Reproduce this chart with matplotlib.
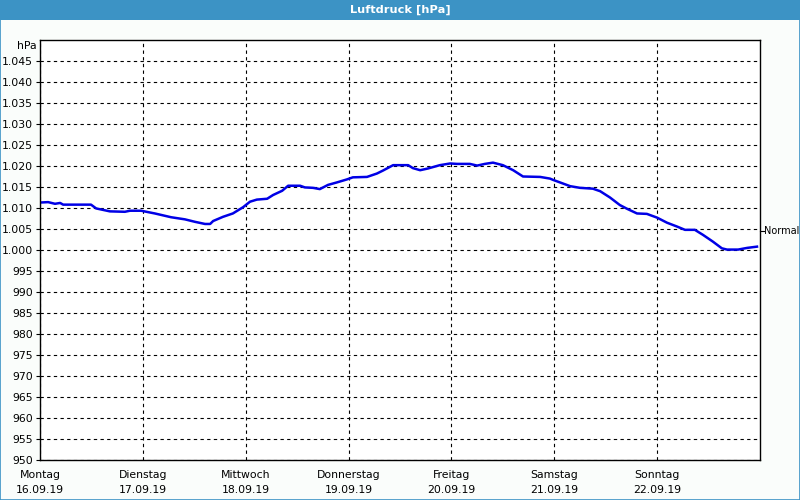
import matplotlib
matplotlib.use("Agg")
import matplotlib.pyplot as plt
from matplotlib.patches import Rectangle

# hours since Montag 16.09.19 00:00 and pressure in hPa
hours = [0, 1.9, 3.5, 4.7, 5.4, 11.9, 13.1, 16.3, 19.8, 21, 23.6, 26.8, 30.6,
         33.8, 36.2, 38.5, 39.7, 40.4, 42.7, 45.0, 47.4, 49, 50.6, 53, 54.4,
         56.5, 57.9, 60.7, 61.8, 63.7, 65.3, 67.2, 69.3, 71.6, 73, 76.3, 78.6,
         80, 82.4, 85.9, 87, 88.7, 90.5, 93.3, 95.7, 97.3, 100.3, 102, 103.8,
         105.7, 108, 110.4, 112.7, 116.7, 119, 119.7, 121.3, 123.7, 126, 129,
         130.7, 133, 135.3, 137, 139.3, 141.6, 144, 146.3, 148.6, 150.5, 152.8,
         154.7, 157, 159.1, 160.3, 162.9, 165, 167.3]
pressure = [1011.3, 1011.4, 1011.0, 1011.2, 1010.8, 1010.8, 1009.9, 1009.2,
            1009.1, 1009.35, 1009.35, 1008.7, 1007.8, 1007.3, 1006.7, 1006.2,
            1006.2, 1006.9, 1007.9, 1008.7, 1010.2, 1011.5, 1012.0, 1012.2,
            1013.1, 1014.1, 1015.3, 1015.3, 1014.9, 1014.8, 1014.5, 1015.5,
            1016.1, 1016.8, 1017.3, 1017.4, 1018.2, 1018.9, 1020.2, 1020.2,
            1019.5, 1019.0, 1019.4, 1020.2, 1020.6, 1020.5, 1020.5, 1020.1,
            1020.5, 1020.8, 1020.2, 1019.0, 1017.5, 1017.4, 1017.0, 1016.7,
            1016.1, 1015.2, 1014.8, 1014.6, 1014.0, 1012.5, 1010.7, 1009.8,
            1008.7, 1008.6, 1007.7, 1006.5, 1005.6, 1004.8, 1004.8, 1003.6,
            1002.0, 1000.4, 1000.1, 1000.1, 1000.5, 1000.8]

days = ["Montag", "Dienstag", "Mittwoch", "Donnerstag", "Freitag", "Samstag", "Sonntag"]
dates = ["16.09.19", "17.09.19", "18.09.19", "19.09.19", "20.09.19", "21.09.19", "22.09.19"]
normal = 1004.5

y_ticks = list(range(950, 1050, 5))
y_labels = [("1.%03d" % (v - 1000)) if v >= 1000 else str(v) for v in y_ticks]

frame_blue = "#3c93c5"

fig = plt.figure(figsize=(8, 5), dpi=100)
fig.patch.set_facecolor("#fafdfb")

# title bar and frame
fig.patches.append(Rectangle((0, 0.96), 1, 0.04, transform=fig.transFigure,
                             facecolor=frame_blue, edgecolor="none"))
fig.patches.append(Rectangle((0.0006, 0.001), 0.9988, 0.998, transform=fig.transFigure,
                             facecolor="none", edgecolor=frame_blue, lw=1.2))
fig.text(0.5, 0.98, "Luftdruck [hPa]", color="white", fontsize=8.2,
         fontweight="bold", ha="center", va="center")

ax = fig.add_axes([0.05, 0.08, 0.90, 0.84])
ax.set_facecolor("white")
ax.set_xlim(0, 168)
ax.set_ylim(950, 1050)

ax.plot(hours, pressure, color="#0000e6", lw=1.8, solid_joinstyle="round")

ax.set_yticks(y_ticks)
ax.set_yticklabels(y_labels)
ax.set_xticks([24 * i for i in range(7)])
ax.set_xticklabels([d + "\n" + t for d, t in zip(days, dates)], linespacing=1.6)

ax.tick_params(axis="y", length=3, width=0.8, labelsize=7.8, pad=2)
ax.tick_params(axis="x", length=0, labelsize=7.8, pad=7)

ax.grid(True, color="black", linestyle=(0, (3, 3)), linewidth=0.8)
for s in ax.spines.values():
    s.set_linewidth(1.0)
    s.set_color("black")

ax.text(-0.004, 1.0 - 0.015, "hPa", transform=ax.transAxes, ha="right", va="center", fontsize=7.8)

# Normal marker at right edge
ax.plot([1.0, 1.005], [normal, normal], color="black", lw=0.8,
        transform=ax.get_yaxis_transform(), clip_on=False)
ax.text(1.0055, normal, "Normal", transform=ax.get_yaxis_transform(),
        ha="left", va="center", fontsize=7.0)

fig.savefig("out.png", dpi=100, facecolor=fig.get_facecolor())
